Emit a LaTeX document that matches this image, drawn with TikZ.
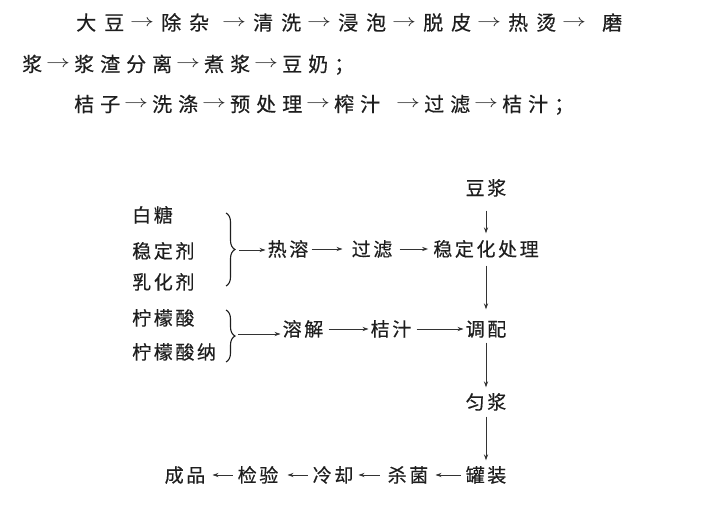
\documentclass[tikz,border=0pt]{standalone}
\usepackage{fontspec}
\usepackage{graphicx}
\newfontfamily\cjk{Noto Sans CJK SC}[FakeBold=0.4]
\usetikzlibrary{arrows.meta,decorations.pathreplacing}
\definecolor{ink}{HTML}{1E1E1E}
\definecolor{lin}{HTML}{333333}
\newcommand\ks{\kern2.6pt}
\newcommand\arrowglyph{\raisebox{3.6pt}{\resizebox{24pt}{\height}{\fontsize{16}{18}\selectfont$\rightarrow$}}}
% line 1 spacing (pitch 28pt)
\newcommand\qa{\kern8pt}
\newcommand\ara{\kern6pt\arrowglyph\kern7pt}
% lines 2-3 spacing (pitch 26pt)
\newcommand\qb{\kern6pt}
\newcommand\arb{\kern4pt\arrowglyph\kern4pt}
\begin{document}
\begin{tikzpicture}[x=1pt,y=-1pt,
  every node/.style={inner sep=0pt,text=ink},
  topline/.style={anchor=west,font=\cjk\fontsize{20}{24}\selectfont,text height=17.6pt,text depth=2.4pt},
  lbl/.style={font=\cjk\fontsize{19}{22}\selectfont,text height=16.7pt,text depth=2.3pt},
  flow/.style={draw=lin,line width=0.8pt,-{Stealth[length=6pt,width=4.2pt]}},
  bracestyle/.style={draw=ink,line width=1.1pt,decorate,decoration={brace,amplitude=9pt}}
]
\fill[white] (0,0) rectangle (721,524);
\useasboundingbox (0,0) rectangle (721,524);

% paragraph lines
\node[topline] (l1) at (76,22.5) {大\qa{}豆\ara{}除\qa{}杂\kern7pt\ara{}清\qa{}洗\ara{}浸\qa{}泡\ara{}脱\qa{}皮\ara{}热\qa{}烫\ara{}\kern9pt{}磨};
\node[topline] (l2) at (22,64) {浆\arb{}浆\qb{}渣\qb{}分\qb{}离\arb{}煮\qb{}浆\arb{}豆\qb{}奶\qb{}；};
\node[topline] (l3) at (74,104) {桔\qb{}子\arb{}洗\qb{}涤\arb{}预\qb{}处\qb{}理\arb{}榨\qb{}汁\kern12pt\arb{}过\qb{}滤\arb{}桔\qb{}汁\qb{}；};

% flow diagram
\node[lbl] (dj) at (486,188) {豆\ks{}浆};
\node[lbl] (wd) at (486,249) {稳\ks{}定\ks{}化\ks{}处\ks{}理};
\node[lbl] (rr) at (288,249) {热\ks{}溶};
\node[lbl] (gl) at (372,249) {过\ks{}滤};
\node[lbl,anchor=west] (bt) at (132,215) {白\ks{}糖};
\node[lbl,anchor=west] (wdj) at (132,251) {稳\ks{}定\ks{}剂};
\node[lbl,anchor=west] (rhj) at (132,282) {乳\ks{}化\ks{}剂};
\node[lbl,anchor=west] (nms) at (132,318) {柠\ks{}檬\ks{}酸};
\node[lbl,anchor=west] (nmsn) at (132,352) {柠\ks{}檬\ks{}酸\ks{}纳};
\node[lbl] (rj) at (303,329) {溶\ks{}解};
\node[lbl] (jz) at (391,329) {桔\ks{}汁};
\node[lbl] (tp) at (486,329) {调\ks{}配};
\node[lbl] (yj) at (486,402) {匀\ks{}浆};
\node[lbl] (gz) at (486,475) {罐\ks{}装};
\node[lbl] (sj) at (408,475) {杀\ks{}菌};
\node[lbl] (lq) at (333,475) {冷\ks{}却};
\node[lbl] (jy) at (258,475) {检\ks{}验};
\node[lbl] (cp) at (185,475) {成\ks{}品};

% braces
\draw[bracestyle] (226,213) -- (226,286);
\draw[bracestyle] (226,310) -- (226,362);
\coordinate (b1) at (239,250);
\coordinate (b2) at (238,334);

% connectors
\draw[flow,shorten <=13pt,shorten >=6pt] (dj) -- (wd);
\draw[flow,shorten >=2pt] (b1) -- (rr.west |- b1);
\draw[flow,shorten <=3pt,shorten >=9pt] (rr) -- (gl);
\draw[flow,shorten <=7pt,shorten >=5pt] (gl) -- (wd);
\draw[flow,shorten <=7pt,shorten >=10pt] (wd) -- (tp);
\draw[flow,shorten >=2pt] (b2) -- (rj.west |- b2);
\draw[flow,shorten <=5pt,shorten >=2pt] (rj) -- (jz);
\draw[flow,shorten <=5pt,shorten >=2pt] (jz) -- (tp);
\draw[flow,shorten <=4pt,shorten >=5pt] (tp) -- (yj);
\draw[flow,shorten <=5pt,shorten >=5pt] (yj) -- (gz);
\draw[flow,shorten <=5pt,shorten >=7pt] (gz) -- (sj);
\draw[flow,shorten <=8pt,shorten >=5pt] (sj) -- (lq);
\draw[flow,shorten <=5pt,shorten >=9pt] (lq) -- (jy);
\draw[flow,shorten <=5pt,shorten >=7pt] (jy) -- (cp);
\end{tikzpicture}
\end{document}
